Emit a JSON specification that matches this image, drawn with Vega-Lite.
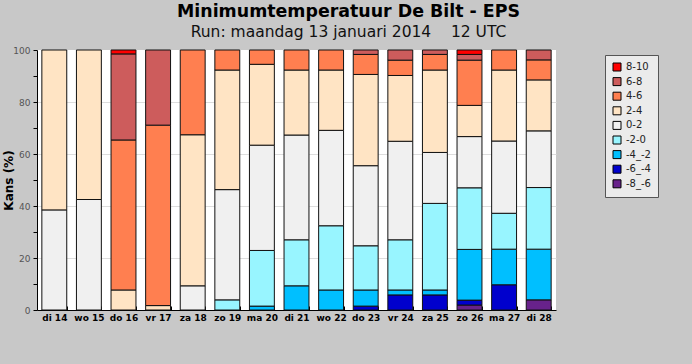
{
  "$schema": "https://vega.github.io/schema/vega-lite/v6.json",
  "autosize": "none",
  "width": 519,
  "height": 260,
  "padding": {"left": 37, "top": 50, "right": 136, "bottom": 54},
  "background": "#c8c8c8",
  "title": {
    "text": "Minimumtemperatuur De Bilt - EPS",
    "subtitle": "Run: maandag 13 januari 2014\u00a0\u00a0\u00a0 12 UTC",
    "anchor": "middle",
    "dx": 52,
    "offset": 6,
    "font": "DejaVu Sans",
    "fontSize": 17.4,
    "fontWeight": "bold",
    "color": "#000",
    "subtitleFont": "DejaVu Sans",
    "subtitleFontSize": 15.5,
    "subtitleColor": "#111",
    "subtitlePadding": 4
  },
  "config": {
    "view": {"fill": "white", "stroke": null},
    "font": "DejaVu Sans"
  },
  "data": {
    "values": [
      {"day": "di 14", "cat": "0-2", "ord": 5, "v": 38.5},
      {"day": "di 14", "cat": "2-4", "ord": 6, "v": 61.5},
      {"day": "wo 15", "cat": "0-2", "ord": 5, "v": 42.5},
      {"day": "wo 15", "cat": "2-4", "ord": 6, "v": 57.5},
      {"day": "do 16", "cat": "2-4", "ord": 6, "v": 7.7},
      {"day": "do 16", "cat": "4-6", "ord": 7, "v": 57.7},
      {"day": "do 16", "cat": "6-8", "ord": 8, "v": 33.1},
      {"day": "do 16", "cat": "8-10", "ord": 9, "v": 1.5},
      {"day": "vr 17", "cat": "2-4", "ord": 6, "v": 1.7},
      {"day": "vr 17", "cat": "4-6", "ord": 7, "v": 69.4},
      {"day": "vr 17", "cat": "6-8", "ord": 8, "v": 28.9},
      {"day": "za 18", "cat": "0-2", "ord": 5, "v": 9.3},
      {"day": "za 18", "cat": "2-4", "ord": 6, "v": 58.1},
      {"day": "za 18", "cat": "4-6", "ord": 7, "v": 32.6},
      {"day": "zo 19", "cat": "-2-0", "ord": 4, "v": 3.9},
      {"day": "zo 19", "cat": "0-2", "ord": 5, "v": 42.4},
      {"day": "zo 19", "cat": "2-4", "ord": 6, "v": 46.0},
      {"day": "zo 19", "cat": "4-6", "ord": 7, "v": 7.7},
      {"day": "ma 20", "cat": "-4_-2", "ord": 3, "v": 1.5},
      {"day": "ma 20", "cat": "-2-0", "ord": 4, "v": 21.4},
      {"day": "ma 20", "cat": "0-2", "ord": 5, "v": 40.5},
      {"day": "ma 20", "cat": "2-4", "ord": 6, "v": 31.1},
      {"day": "ma 20", "cat": "4-6", "ord": 7, "v": 5.5},
      {"day": "di 21", "cat": "-4_-2", "ord": 3, "v": 9.3},
      {"day": "di 21", "cat": "-2-0", "ord": 4, "v": 17.7},
      {"day": "di 21", "cat": "0-2", "ord": 5, "v": 40.3},
      {"day": "di 21", "cat": "2-4", "ord": 6, "v": 25.0},
      {"day": "di 21", "cat": "4-6", "ord": 7, "v": 7.7},
      {"day": "wo 22", "cat": "-4_-2", "ord": 3, "v": 7.7},
      {"day": "wo 22", "cat": "-2-0", "ord": 4, "v": 24.7},
      {"day": "wo 22", "cat": "0-2", "ord": 5, "v": 36.7},
      {"day": "wo 22", "cat": "2-4", "ord": 6, "v": 23.2},
      {"day": "wo 22", "cat": "4-6", "ord": 7, "v": 7.7},
      {"day": "do 23", "cat": "-6_-4", "ord": 2, "v": 1.5},
      {"day": "do 23", "cat": "-4_-2", "ord": 3, "v": 6.2},
      {"day": "do 23", "cat": "-2-0", "ord": 4, "v": 17.0},
      {"day": "do 23", "cat": "0-2", "ord": 5, "v": 30.8},
      {"day": "do 23", "cat": "2-4", "ord": 6, "v": 35.1},
      {"day": "do 23", "cat": "4-6", "ord": 7, "v": 7.7},
      {"day": "do 23", "cat": "6-8", "ord": 8, "v": 1.7},
      {"day": "vr 24", "cat": "-6_-4", "ord": 2, "v": 5.8},
      {"day": "vr 24", "cat": "-4_-2", "ord": 3, "v": 1.9},
      {"day": "vr 24", "cat": "-2-0", "ord": 4, "v": 19.3},
      {"day": "vr 24", "cat": "0-2", "ord": 5, "v": 37.9},
      {"day": "vr 24", "cat": "2-4", "ord": 6, "v": 25.3},
      {"day": "vr 24", "cat": "4-6", "ord": 7, "v": 5.9},
      {"day": "vr 24", "cat": "6-8", "ord": 8, "v": 3.9},
      {"day": "za 25", "cat": "-6_-4", "ord": 2, "v": 5.8},
      {"day": "za 25", "cat": "-4_-2", "ord": 3, "v": 1.9},
      {"day": "za 25", "cat": "-2-0", "ord": 4, "v": 33.3},
      {"day": "za 25", "cat": "0-2", "ord": 5, "v": 19.6},
      {"day": "za 25", "cat": "2-4", "ord": 6, "v": 31.7},
      {"day": "za 25", "cat": "4-6", "ord": 7, "v": 6.0},
      {"day": "za 25", "cat": "6-8", "ord": 8, "v": 1.7},
      {"day": "zo 26", "cat": "-8_-6", "ord": 1, "v": 1.9},
      {"day": "zo 26", "cat": "-6_-4", "ord": 2, "v": 1.9},
      {"day": "zo 26", "cat": "-4_-2", "ord": 3, "v": 19.5},
      {"day": "zo 26", "cat": "-2-0", "ord": 4, "v": 23.7},
      {"day": "zo 26", "cat": "0-2", "ord": 5, "v": 19.7},
      {"day": "zo 26", "cat": "2-4", "ord": 6, "v": 12.0},
      {"day": "zo 26", "cat": "4-6", "ord": 7, "v": 17.4},
      {"day": "zo 26", "cat": "6-8", "ord": 8, "v": 2.2},
      {"day": "zo 26", "cat": "8-10", "ord": 9, "v": 1.7},
      {"day": "ma 27", "cat": "-6_-4", "ord": 2, "v": 9.7},
      {"day": "ma 27", "cat": "-4_-2", "ord": 3, "v": 13.7},
      {"day": "ma 27", "cat": "-2-0", "ord": 4, "v": 13.8},
      {"day": "ma 27", "cat": "0-2", "ord": 5, "v": 27.8},
      {"day": "ma 27", "cat": "2-4", "ord": 6, "v": 27.3},
      {"day": "ma 27", "cat": "4-6", "ord": 7, "v": 7.7},
      {"day": "di 28", "cat": "-8_-6", "ord": 1, "v": 3.9},
      {"day": "di 28", "cat": "-4_-2", "ord": 3, "v": 19.5},
      {"day": "di 28", "cat": "-2-0", "ord": 4, "v": 23.7},
      {"day": "di 28", "cat": "0-2", "ord": 5, "v": 21.8},
      {"day": "di 28", "cat": "2-4", "ord": 6, "v": 19.6},
      {"day": "di 28", "cat": "4-6", "ord": 7, "v": 7.7},
      {"day": "di 28", "cat": "6-8", "ord": 8, "v": 3.8}
    ]
  },
  "mark": {"type": "bar", "stroke": "#111", "strokeWidth": 1},
  "encoding": {
    "x": {
      "field": "day",
      "type": "nominal",
      "sort": null,
      "scale": {"paddingInner": 0.28, "paddingOuter": 0.14},
      "axis": {
        "title": null,
        "labelAngle": 0,
        "labelFont": "DejaVu Sans",
        "labelFontSize": 9,
        "labelFontWeight": "bold",
        "labelColor": "#000",
        "labelPadding": 7,
        "domainColor": "#000",
        "domainWidth": 1,
        "tickBand": "extent",
        "tickColor": "#000",
        "tickSize": -4,
        "grid": false
      }
    },
    "y": {
      "field": "v",
      "type": "quantitative",
      "stack": "zero",
      "scale": {"domain": [0, 100], "nice": false},
      "axis": {
        "title": "Kans (%)",
        "titleFont": "DejaVu Sans",
        "titleFontSize": 12,
        "titleFontWeight": "bold",
        "titleColor": "#000",
        "titleX": -29,
        "titleBaseline": "middle",
        "values": [0, 10, 20, 30, 40, 50, 60, 70, 80, 90, 100],
        "labelExpr": "datum.value % 20 == 0 ? datum.label : ''",
        "labelFont": "DejaVu Sans",
        "labelFontSize": 9,
        "labelColor": "#555",
        "labelPadding": 3,
        "tickSize": 4,
        "tickColor": "#000",
        "domainColor": "#000",
        "grid": true,
        "gridColor": "#dddddd",
        "gridOpacity": {"condition": {"test": "datum.value % 20 != 0 || datum.value == 0 || datum.value == 100", "value": 0}, "value": 1}
      }
    },
    "color": {
      "field": "cat",
      "type": "nominal",
      "scale": {
        "domain": ["8-10", "6-8", "4-6", "2-4", "0-2", "-2-0", "-4_-2", "-6_-4", "-8_-6"],
        "range": ["#ff0000", "#cd5c5c", "#ff7f50", "#ffe4c4", "#f0f0f0", "#98f5ff", "#00bfff", "#0000cd", "#68228b"]
      },
      "legend": {
        "title": null,
        "orient": "none",
        "legendX": 568,
        "legendY": 5,
        "padding": 7,
        "fillColor": "#ebebeb",
        "strokeColor": "#555",
        "symbolType": "square",
        "symbolSize": 64,
        "symbolStrokeColor": "#000",
        "symbolStrokeWidth": 1,
        "symbolOpacity": 1,
        "labelFont": "DejaVu Sans",
        "labelFontSize": 10,
        "labelColor": "#222",
        "labelOffset": 4,
        "rowPadding": 2.6
      }
    },
    "order": {"field": "ord", "type": "quantitative"}
  }
}
